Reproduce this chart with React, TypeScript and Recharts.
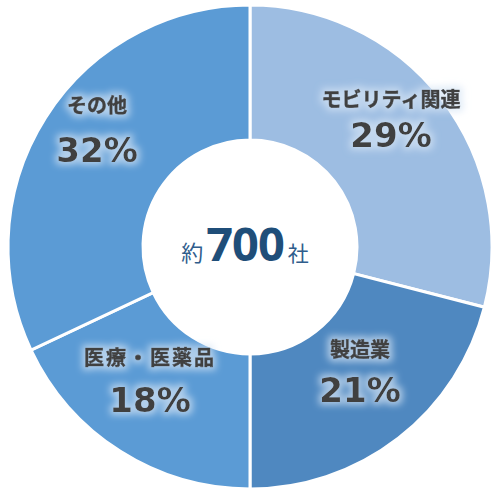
import React from "react";
import { PieChart, Pie, Cell, Label } from "recharts";

const categories = ["モビリティ関連", "製造業", "医療・医薬品", "その他"];
const shares = [29, 21, 18, 32];
const centerParts = ["約", "700", "社"];

const sliceColors = ["#9DBDE2", "#4F88C0", "#5B9BD5", "#5B9BD5"];
// [dx, title baseline dy, percent baseline dy] relative to the pie centre
const labelAnchors = [
  [141, -140, -100],
  [110, 110, 155],
  [-100, 118, 165],
  [-153, -134, -85],
];

const data = categories.map((name, i) => ({ name, value: shares[i] }));

const CJK = "'Noto Sans CJK JP', 'Noto Sans', sans-serif";
const NUM = "'DejaVu Sans', 'Noto Sans', sans-serif";

function GlowDefs({ id }: { id: string }) {
  return (
    <defs>
      <filter id={id} x="-25%" y="-60%" width="150%" height="220%">
        <feMorphology in="SourceAlpha" operator="dilate" radius="3" result="d" />
        <feGaussianBlur in="d" stdDeviation="3.5" result="b" />
        <feFlood floodColor="#D6E5F5" floodOpacity="0.7" />
        <feComposite in2="b" operator="in" result="g" />
        <feMerge>
          <feMergeNode in="g" />
          <feMergeNode in="SourceGraphic" />
        </feMerge>
      </filter>
    </defs>
  );
}

const renderLabel = (props: any) => {
  const { cx, cy, index } = props;
  const [dx, ty, py] = labelAnchors[index];
  const x = cx + dx;
  const id = `glow-${index}`;
  return (
    <g key={id}>
      <GlowDefs id={id} />
      <g filter={`url(#${id})`}>
        <text
          x={x}
          y={cy + ty}
          textAnchor="middle"
          fill="#404040"
          stroke="#404040"
          strokeWidth={0.6}
          fontFamily={CJK}
          fontWeight={700}
          fontSize={20}
          letterSpacing={index === 2 ? 2 : 0}
        >
          {categories[index]}
        </text>
        <text
          x={x}
          y={cy + py}
          textAnchor="middle"
          fill="#404040"
          fontFamily={NUM}
          fontWeight={700}
          fontSize={34}
        >
          {shares[index]}%
        </text>
      </g>
    </g>
  );
};

const renderCenter = (props: any) => {
  const vb = props.viewBox || {};
  const cx = vb.cx ?? 250;
  const cy = vb.cy ?? 247;
  return (
    <text
      x={cx - 5}
      y={cy + 14}
      textAnchor="middle"
      fill="#1F4E79"
      fontFamily={CJK}
    >
      <tspan fontSize={22} fill="#2F5D8C">{centerParts[0]}</tspan>
      <tspan dx={3} fontSize={47} fontWeight={700} fontFamily="'Noto Sans', sans-serif" letterSpacing={-1}>
        {centerParts[1]}
      </tspan>
      <tspan dx={4} fontSize={21} fill="#2F5D8C">{centerParts[2]}</tspan>
    </text>
  );
};

export default function App() {
  return (
    <div style={{ position: "absolute", left: 0, top: 0 }}>
      <PieChart width={496} height={494} margin={{ top: 0, right: 0, bottom: 0, left: 0 }}>
        <Pie
          data={data}
          dataKey="value"
          nameKey="name"
          cx={250}
          cy={247}
          innerRadius={107}
          outerRadius={242}
          startAngle={90}
          endAngle={-270}
          stroke="#FFFFFF"
          strokeWidth={3}
          labelLine={false}
          label={renderLabel}
          isAnimationActive={false}
        >
          {data.map((d, i) => (
            <Cell key={d.name} fill={sliceColors[i]} />
          ))}
          <Label position="center" content={renderCenter} />
        </Pie>
      </PieChart>
    </div>
  );
}
